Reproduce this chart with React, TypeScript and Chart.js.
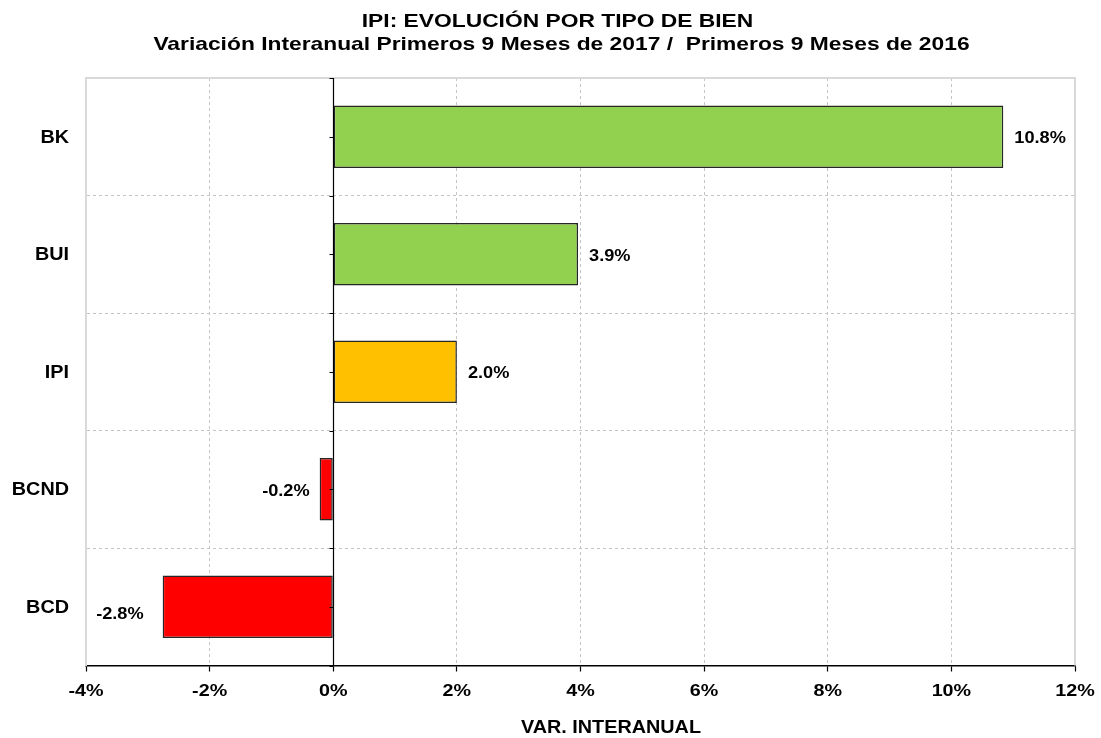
import React, { useEffect, useRef } from "react";
import { Chart, registerables } from "chart.js";

Chart.register(...registerables);

const categories = ["BK", "BUI", "IPI", "BCND", "BCD"];
const values = [10.84, 3.96, 2.0, -0.22, -2.76];
const valueLabels = ["10.8%", "3.9%", "2.0%", "-0.2%", "-2.8%"];
const barColors = ["#92D050", "#92D050", "#FFC000", "#FF0000", "#FF0000"];
const xTicks = [-4, -2, 0, 2, 4, 6, 8, 10, 12];
const titleLines = [
  "IPI: EVOLUCIÓN POR TIPO DE BIEN",
  "Variación Interanual Primeros 9 Meses de 2017 /  Primeros 9 Meses de 2016",
];
const xTitle = "VAR. INTERANUAL";

const FONT = "'Liberation Sans', Arial, sans-serif";

function drawText(
  ctx: CanvasRenderingContext2D,
  text: string,
  x: number,
  y: number,
  align: CanvasTextAlign,
  size: number,
  sx: number
) {
  ctx.save();
  ctx.font = `bold ${size}px ${FONT}`;
  ctx.fillStyle = "#000";
  ctx.textAlign = align;
  ctx.textBaseline = "middle";
  ctx.translate(x, y);
  ctx.scale(sx, 1);
  ctx.fillText(text, 0, 0);
  ctx.restore();
}

const decorPlugin = {
  id: "decor",
  afterDatasetsDraw(chart: any) {
    const { ctx, chartArea, scales } = chart;
    const xs = scales.x;
    const ys = scales.y;
    ctx.save();
    // top and right border
    ctx.strokeStyle = "#d9d9d9";
    ctx.lineWidth = 2;
    ctx.setLineDash([]);
    ctx.beginPath();
    ctx.moveTo(chartArea.left, chartArea.top);
    ctx.lineTo(chartArea.right, chartArea.top);
    ctx.lineTo(chartArea.right, chartArea.bottom);
    ctx.stroke();
    // zero line
    const x0 = Math.round(xs.getPixelForValue(0)) + 0.5;
    ctx.strokeStyle = "#000";
    ctx.lineWidth = 1.2;
    ctx.beginPath();
    ctx.moveTo(x0, chartArea.top);
    ctx.lineTo(x0, chartArea.bottom);
    const n = categories.length;
    const step = (chartArea.bottom - chartArea.top) / n;
    for (let i = 0; i <= 2 * n; i++) {
      const y = Math.round(chartArea.top + (i * step) / 2) + 0.5;
      ctx.moveTo(x0 - 4, y);
      ctx.lineTo(x0, y);
    }
    ctx.stroke();
    ctx.restore();

    // data labels
    values.forEach((v, i) => {
      const xp = xs.getPixelForValue(v);
      const yp = ys.getPixelForValue(i);
      if (v >= 0) {
        drawText(ctx, valueLabels[i], xp + 11, yp + 2, "left", 17, 1.07);
      } else {
        const big = v < -1;
        drawText(ctx, valueLabels[i], xp - (big ? 19 : 10), yp + (big ? 8 : 2), "right", 17, 1.07);
      }
    });
    // category labels
    categories.forEach((c, i) => {
      drawText(ctx, c, 69, ys.getPixelForValue(i) + 1, "right", 18, 1.1);
    });
    // x tick labels
    xTicks.forEach((t) => {
      drawText(ctx, `${t}%`, xs.getPixelForValue(t), 691, "center", 17, 1.16);
    });
    // titles
    drawText(ctx, titleLines[0], 557.5, 21.5, "center", 19, 1.2);
    drawText(ctx, titleLines[1], 561.5, 45, "center", 19, 1.2);
    drawText(ctx, xTitle, 611, 728, "center", 18, 1.1);
  },
};

export default function App() {
  const ref = useRef<HTMLCanvasElement>(null);
  useEffect(() => {
    const chart = new Chart(ref.current as HTMLCanvasElement, {
      type: "bar",
      data: {
        labels: categories,
        datasets: [
          {
            data: values,
            backgroundColor: barColors,
            borderColor: "#262626",
            borderWidth: 1.5,
            borderSkipped: false,
            barPercentage: 0.53,
            categoryPercentage: 1,
          },
        ],
      },
      options: {
        indexAxis: "y",
        animation: false,
        responsive: false,
        maintainAspectRatio: false,
        layout: { padding: { left: 0, top: 78, right: 26, bottom: 0 } },
        plugins: { legend: { display: false }, tooltip: { enabled: false }, title: { display: false } },
        scales: {
          x: {
            type: "linear",
            min: -4,
            max: 12,
            afterBuildTicks: (scale: any) => {
              scale.ticks = xTicks.map((v) => ({ value: v }));
            },
            afterFit: (scale: any) => {
              scale.height = 72.5;
            },
            ticks: { display: false },
            grid: {
              color: "#c4c4c4",
              lineWidth: 1,
              drawTicks: true,
              tickLength: 6,
              tickColor: "#000",
              tickBorderDash: [],
              tickWidth: 1.2,
            },
            border: { display: true, color: "#000", width: 1.5, dash: [3, 3] },
          },
          y: {
            type: "category",
            afterFit: (scale: any) => {
              scale.width = 86;
            },
            ticks: { display: false },
            grid: {
              offset: true,
              color: "#c4c4c4",
              drawTicks: false,
              tickLength: 0,
            },
            border: { display: true, color: "#d9d9d9", width: 2, dash: [3, 3] },
          },
        },
      },
      plugins: [decorPlugin],
    } as any);
    return () => chart.destroy();
  }, []);
  return (
    <div style={{ position: "fixed", left: 0, top: 0, width: 1101, height: 738, background: "#fff" }}>
      <canvas ref={ref} width={1101} height={738} style={{ width: 1101, height: 738 }} />
    </div>
  );
}
